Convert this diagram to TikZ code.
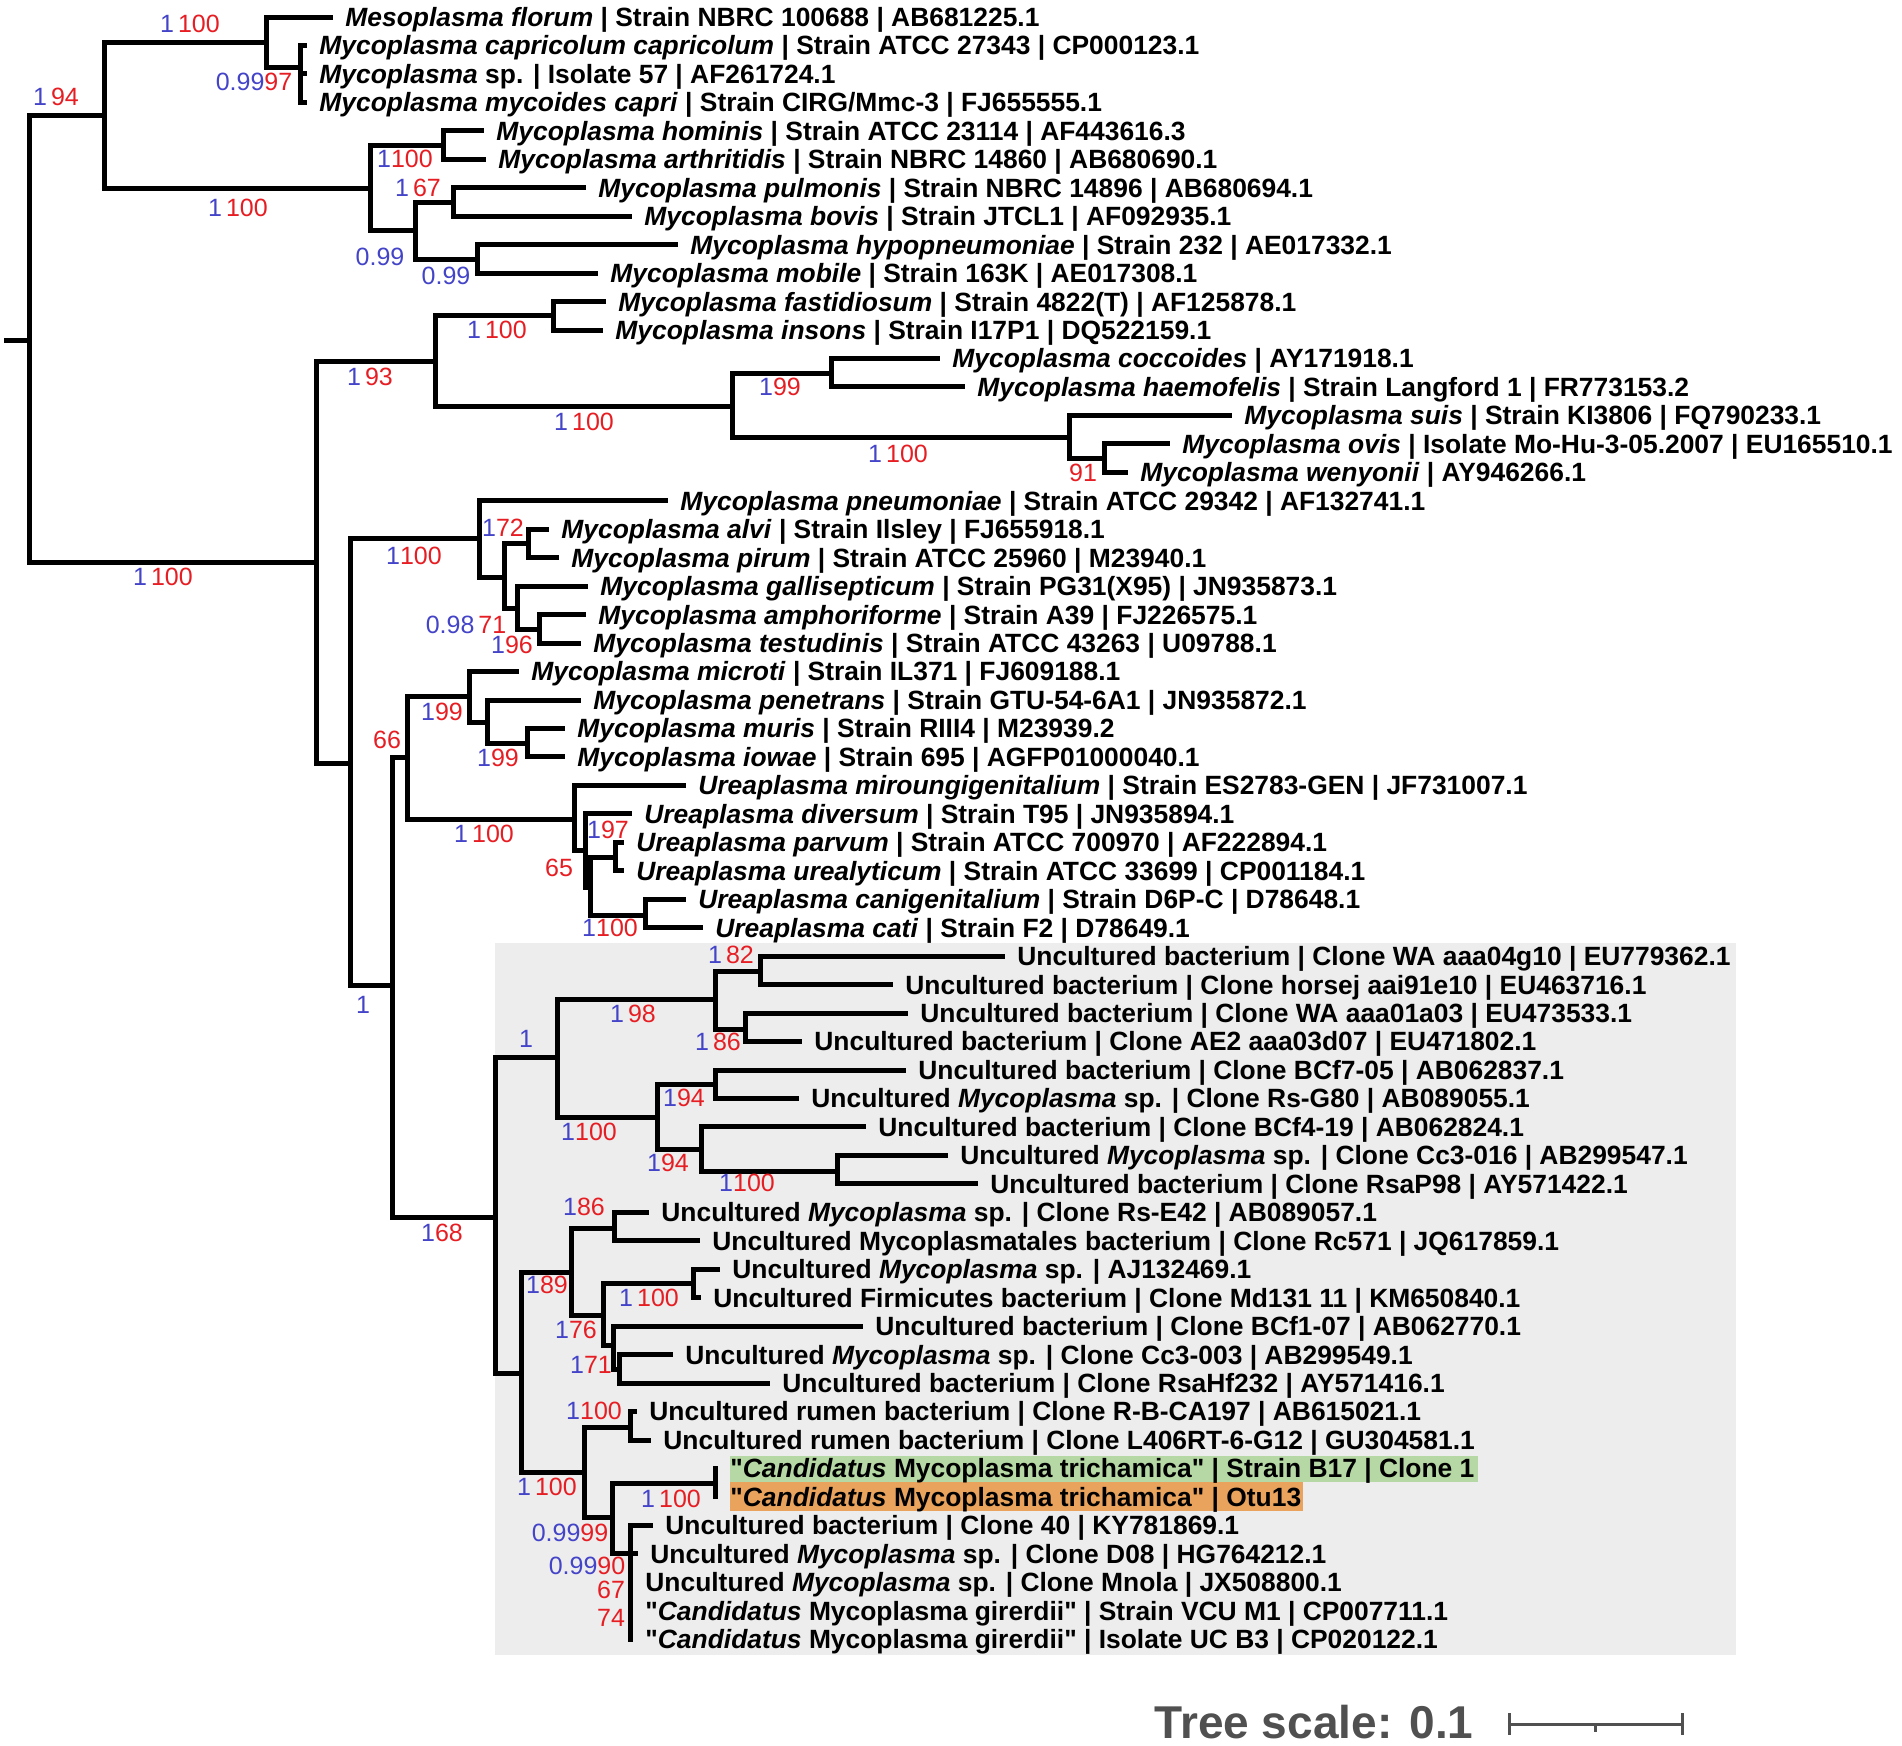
\documentclass[tikz,border=0pt]{standalone}
\usepackage{fontspec}
\setmainfont[Ligatures=TeXOff]{Liberation Sans}
\definecolor{sb}{RGB}{68,68,200}
\definecolor{sr}{RGB}{230,30,35}
\definecolor{boxgrey}{RGB}{237,237,237}
\definecolor{hlgreen}{RGB}{181,216,164}
\definecolor{hlorange}{RGB}{233,163,92}
\definecolor{scalegrey}{RGB}{80,80,80}
\newcommand{\SupBR}[2]{{\color{sb}#1}\hspace{2pt}{\color{sr}#2}}
\newcommand{\SupBRt}[2]{{\color{sb}#1}{\color{sr}#2}}
\newcommand{\SupB}[1]{{\color{sb}#1}}
\newcommand{\SupR}[1]{{\color{sr}#1}}
\begin{document}
\begin{tikzpicture}[x=0.5pt,y=-0.5pt,
  br/.style={line width=2.5pt,line cap=rect},
  leaf/.style={anchor=base west,inner sep=0pt,xshift=7.5pt,yshift=-4.7pt,font=\fontsize{13.2pt}{15pt}\selectfont\bfseries},
  sup/.style={inner sep=0pt,font=\fontsize{12.5pt}{14pt}\selectfont},
  scalebar/.style={line width=1.5pt,draw=scalegrey}]
\useasboundingbox (0,0) rectangle (1902,1746);
% background highlight
\fill[boxgrey] (495,943) rectangle (1736,1655);
\fill[hlgreen] (730,1456) rectangle (1478,1482);
\fill[hlorange] (730,1482) rectangle (1303,1511);
% leaf tips
\foreach \i/\x in {1/330,2/304,3/304,4/304,5/481,6/483,7/583,8/629,9/675,10/595,
  11/603,12/600,13/937,14/962,15/1229,16/1167,17/1125,18/665,19/546,20/556,
  21/585,22/583,23/578,24/516,25/578,26/562,27/562,28/683,29/629,30/621,
  31/621,32/683,33/700,34/1002,35/890,36/905,37/799,38/903,39/796,40/863,
  41/945,42/975,43/646,44/697,45/717,46/698,47/860,48/670,49/767,50/634,
  51/648,52/715,53/715,54/650,55/635,56/630,57/630,58/630}
  {\coordinate (l\i) at (\x,{17+(\i-1)*28.46});}
% internal nodes
\coordinate (r0) at (6,340);
\coordinate (R) at (29,340);
\coordinate (A) at (104,115);
\coordinate (A1) at (266,42);
\coordinate (A1b) at (300,67);
\coordinate (A2) at (370,188);
\coordinate (A2a) at (443,145);
\coordinate (A2b) at (415,230);
\coordinate (A2b1) at (453,202);
\coordinate (A2b2) at (477,259);
\coordinate (B) at (316,562);
\coordinate (B1) at (435,361);
\coordinate (B1a) at (553,315);
\coordinate (B1b) at (732,406);
\coordinate (B1b1) at (831,373);
\coordinate (B1b2) at (1069,437);
\coordinate (B1b2b) at (1104,458);
\coordinate (C) at (350,763);
\coordinate (C1) at (479,538);
\coordinate (C1b) at (504,577);
\coordinate (C1b1) at (528,543);
\coordinate (C1b2) at (517,608);
\coordinate (C1b2b) at (539,629);
\coordinate (D) at (392,985);
\coordinate (E) at (407,757);
\coordinate (E1) at (469,696);
\coordinate (E1b) at (487,722);
\coordinate (E1bb) at (527,743);
\coordinate (U0) at (574,819);
\coordinate (U1) at (585,850);
\coordinate (U2) at (590,887);
\coordinate (U3) at (615,857);
\coordinate (U4) at (645,915);
\coordinate (F) at (495,1217);
\coordinate (F1) at (557,1057);
\coordinate (F1a) at (715,999);
\coordinate (F1a1) at (760,971);
\coordinate (F1a2) at (745,1029);
\coordinate (F1b) at (657,1117);
\coordinate (F1b1) at (715,1084);
\coordinate (F1b2) at (701,1149);
\coordinate (F1b2b) at (837,1171);
\coordinate (F2) at (521,1373);
\coordinate (F2a) at (571,1272);
\coordinate (F2a1) at (614,1228);
\coordinate (F2a2) at (603,1315);
\coordinate (F2a2a) at (693,1283);
\coordinate (G) at (613,1345);
\coordinate (H) at (619,1369);
\coordinate (F2b) at (584,1472);
\coordinate (F2b1) at (630,1427);
\coordinate (F2b2) at (612,1517);
\coordinate (F2b2a) at (715,1483);
\coordinate (F2b2b) at (630,1553);
% branches
\draw[br] (r0) -- (R);
\foreach \p/\c in {R/A,R/B,A/A1,A/A2,A1/l1,A1/A1b,A1b/l2,A1b/l3,A1b/l4,
  A2/A2a,A2/A2b,A2a/l5,A2a/l6,A2b/A2b1,A2b/A2b2,A2b1/l7,A2b1/l8,A2b2/l9,A2b2/l10,
  B/B1,B/C,B1/B1a,B1/B1b,B1a/l11,B1a/l12,B1b/B1b1,B1b/B1b2,B1b1/l13,B1b1/l14,
  B1b2/l15,B1b2/B1b2b,B1b2b/l16,B1b2b/l17,
  C/C1,C/D,C1/l18,C1/C1b,C1b/C1b1,C1b/C1b2,C1b1/l19,C1b1/l20,C1b2/l21,C1b2/C1b2b,
  C1b2b/l22,C1b2b/l23,
  D/E,D/F,E/E1,E/U0,E1/l24,E1/E1b,E1b/l25,E1b/E1bb,E1bb/l26,E1bb/l27,
  U0/l28,U0/U1,U1/l29,U1/U2,U2/U3,U2/U4,U3/l30,U3/l31,U4/l32,U4/l33,
  F/F1,F/F2,F1/F1a,F1/F1b,F1a/F1a1,F1a/F1a2,F1a1/l34,F1a1/l35,F1a2/l36,F1a2/l37,
  F1b/F1b1,F1b/F1b2,F1b1/l38,F1b1/l39,F1b2/l40,F1b2/F1b2b,F1b2b/l41,F1b2b/l42,
  F2/F2a,F2/F2b,F2a/F2a1,F2a/F2a2,F2a1/l43,F2a1/l44,F2a2/F2a2a,F2a2/G,
  F2a2a/l45,F2a2a/l46,G/l47,G/H,H/l48,H/l49,
  F2b/F2b1,F2b/F2b2,F2b1/l50,F2b1/l51,F2b2/F2b2a,F2b2/F2b2b,F2b2a/l52,F2b2a/l53,
  F2b2b/l54,F2b2b/l55,F2b2b/l56,F2b2b/l57,F2b2b/l58}
  {\draw[br] (\p) |- (\c);}
% leaf labels
\node[leaf] (t1) at (l1) {\textit{Mesoplasma florum} | Strain NBRC 100688 | AB681225.1};
\node[leaf] (t2) at (l2) {\textit{Mycoplasma capricolum capricolum} | Strain ATCC 27343 | CP000123.1};
\node[leaf] (t3) at (l3) {\textit{Mycoplasma} sp. | Isolate 57 | AF261724.1};
\node[leaf] (t4) at (l4) {\textit{Mycoplasma mycoides capri} | Strain CIRG/Mmc-3 | FJ655555.1};
\node[leaf] (t5) at (l5) {\textit{Mycoplasma hominis} | Strain ATCC 23114 | AF443616.3};
\node[leaf] (t6) at (l6) {\textit{Mycoplasma arthritidis} | Strain NBRC 14860 | AB680690.1};
\node[leaf] (t7) at (l7) {\textit{Mycoplasma pulmonis} | Strain NBRC 14896 | AB680694.1};
\node[leaf] (t8) at (l8) {\textit{Mycoplasma bovis} | Strain JTCL1 | AF092935.1};
\node[leaf] (t9) at (l9) {\textit{Mycoplasma hypopneumoniae} | Strain 232 | AE017332.1};
\node[leaf] (t10) at (l10) {\textit{Mycoplasma mobile} | Strain 163K | AE017308.1};
\node[leaf] (t11) at (l11) {\textit{Mycoplasma fastidiosum} | Strain 4822(T) | AF125878.1};
\node[leaf] (t12) at (l12) {\textit{Mycoplasma insons} | Strain I17P1 | DQ522159.1};
\node[leaf] (t13) at (l13) {\textit{Mycoplasma coccoides} | AY171918.1};
\node[leaf] (t14) at (l14) {\textit{Mycoplasma haemofelis} | Strain Langford 1 | FR773153.2};
\node[leaf] (t15) at (l15) {\textit{Mycoplasma suis} | Strain KI3806 | FQ790233.1};
\node[leaf] (t16) at (l16) {\textit{Mycoplasma ovis} | Isolate Mo-Hu-3-05.2007 | EU165510.1};
\node[leaf] (t17) at (l17) {\textit{Mycoplasma wenyonii} | AY946266.1};
\node[leaf] (t18) at (l18) {\textit{Mycoplasma pneumoniae} | Strain ATCC 29342 | AF132741.1};
\node[leaf] (t19) at (l19) {\textit{Mycoplasma alvi} | Strain Ilsley | FJ655918.1};
\node[leaf] (t20) at (l20) {\textit{Mycoplasma pirum} | Strain ATCC 25960 | M23940.1};
\node[leaf] (t21) at (l21) {\textit{Mycoplasma gallisepticum} | Strain PG31(X95) | JN935873.1};
\node[leaf] (t22) at (l22) {\textit{Mycoplasma amphoriforme} | Strain A39 | FJ226575.1};
\node[leaf] (t23) at (l23) {\textit{Mycoplasma testudinis} | Strain ATCC 43263 | U09788.1};
\node[leaf] (t24) at (l24) {\textit{Mycoplasma microti} | Strain IL371 | FJ609188.1};
\node[leaf] (t25) at (l25) {\textit{Mycoplasma penetrans} | Strain GTU-54-6A1 | JN935872.1};
\node[leaf] (t26) at (l26) {\textit{Mycoplasma muris} | Strain RIII4 | M23939.2};
\node[leaf] (t27) at (l27) {\textit{Mycoplasma iowae} | Strain 695 | AGFP01000040.1};
\node[leaf] (t28) at (l28) {\textit{Ureaplasma miroungigenitalium} | Strain ES2783-GEN | JF731007.1};
\node[leaf] (t29) at (l29) {\textit{Ureaplasma diversum} | Strain T95 | JN935894.1};
\node[leaf] (t30) at (l30) {\textit{Ureaplasma parvum} | Strain ATCC 700970 | AF222894.1};
\node[leaf] (t31) at (l31) {\textit{Ureaplasma urealyticum} | Strain ATCC 33699 | CP001184.1};
\node[leaf] (t32) at (l32) {\textit{Ureaplasma canigenitalium} | Strain D6P-C | D78648.1};
\node[leaf] (t33) at (l33) {\textit{Ureaplasma cati} | Strain F2 | D78649.1};
\node[leaf] (t34) at (l34) {Uncultured bacterium | Clone WA aaa04g10 | EU779362.1};
\node[leaf] (t35) at (l35) {Uncultured bacterium | Clone horsej aai91e10 | EU463716.1};
\node[leaf] (t36) at (l36) {Uncultured bacterium | Clone WA aaa01a03 | EU473533.1};
\node[leaf] (t37) at (l37) {Uncultured bacterium | Clone AE2 aaa03d07 | EU471802.1};
\node[leaf] (t38) at (l38) {Uncultured bacterium | Clone BCf7-05 | AB062837.1};
\node[leaf] (t39) at (l39) {Uncultured \textit{Mycoplasma} sp. | Clone Rs-G80 | AB089055.1};
\node[leaf] (t40) at (l40) {Uncultured bacterium | Clone BCf4-19 | AB062824.1};
\node[leaf] (t41) at (l41) {Uncultured \textit{Mycoplasma} sp. | Clone Cc3-016 | AB299547.1};
\node[leaf] (t42) at (l42) {Uncultured bacterium | Clone RsaP98 | AY571422.1};
\node[leaf] (t43) at (l43) {Uncultured \textit{Mycoplasma} sp. | Clone Rs-E42 | AB089057.1};
\node[leaf] (t44) at (l44) {Uncultured Mycoplasmatales bacterium | Clone Rc571 | JQ617859.1};
\node[leaf] (t45) at (l45) {Uncultured \textit{Mycoplasma} sp. | AJ132469.1};
\node[leaf] (t46) at (l46) {Uncultured Firmicutes bacterium | Clone Md131 11 | KM650840.1};
\node[leaf] (t47) at (l47) {Uncultured bacterium | Clone BCf1-07 | AB062770.1};
\node[leaf] (t48) at (l48) {Uncultured \textit{Mycoplasma} sp. | Clone Cc3-003 | AB299549.1};
\node[leaf] (t49) at (l49) {Uncultured bacterium | Clone RsaHf232 | AY571416.1};
\node[leaf] (t50) at (l50) {Uncultured rumen bacterium | Clone R-B-CA197 | AB615021.1};
\node[leaf] (t51) at (l51) {Uncultured rumen bacterium | Clone L406RT-6-G12 | GU304581.1};
\node[leaf] (t52) at (l52) {"\textit{Candidatus} Mycoplasma trichamica" | Strain B17 | Clone 1};
\node[leaf] (t53) at (l53) {"\textit{Candidatus} Mycoplasma trichamica" | Otu13};
\node[leaf] (t54) at (l54) {Uncultured bacterium | Clone 40 | KY781869.1};
\node[leaf] (t55) at (l55) {Uncultured \textit{Mycoplasma} sp. | Clone D08 | HG764212.1};
\node[leaf] (t56) at (l56) {Uncultured \textit{Mycoplasma} sp. | Clone Mnola | JX508800.1};
\node[leaf] (t57) at (l57) {"\textit{Candidatus} Mycoplasma girerdii" | Strain VCU M1 | CP007711.1};
\node[leaf] (t58) at (l58) {"\textit{Candidatus} Mycoplasma girerdii" | Isolate UC B3 | CP020122.1};
% support values
\node[sup] (s1) at (190,24) {\SupBR{1}{100}};
\node[sup] (s2) at (254,82) {\SupBRt{0.99}{97}};
\node[sup] (s3) at (56,97) {\SupBR{1}{94}};
\node[sup] (s4) at (238,208) {\SupBR{1}{100}};
\node[sup] (s5) at (405,159) {\SupBRt{1}{100}};
\node[sup] (s6) at (418,188) {\SupBR{1}{67}};
\node[sup] (s7) at (380,257) {\SupB{0.99}};
\node[sup] (s8) at (446,276) {\SupB{0.99}};
\node[sup] (s9) at (497,330) {\SupBR{1}{100}};
\node[sup] (s10) at (370,377) {\SupBR{1}{93}};
\node[sup] (s11) at (584,422) {\SupBR{1}{100}};
\node[sup] (s12) at (780,387) {\SupBRt{1}{99}};
\node[sup] (s13) at (898,454) {\SupBR{1}{100}};
\node[sup] (s14) at (1083,473) {\SupR{91}};
\node[sup] (s15) at (163,577) {\SupBR{1}{100}};
\node[sup] (s16) at (414,556) {\SupBRt{1}{100}};
\node[sup] (s17) at (503,528) {\SupBRt{1}{72}};
\node[sup] (s18) at (466,625) {\SupBR{0.98}{71}};
\node[sup] (s19) at (512,645) {\SupBRt{1}{96}};
\node[sup] (s20) at (387,740) {\SupR{66}};
\node[sup] (s21) at (442,712) {\SupBRt{1}{99}};
\node[sup] (s22) at (498,758) {\SupBRt{1}{99}};
\node[sup] (s23) at (484,834) {\SupBR{1}{100}};
\node[sup] (s24) at (608,830) {\SupBRt{1}{97}};
\node[sup] (s25) at (559,868) {\SupR{65}};
\node[sup] (s26) at (610,928) {\SupBRt{1}{100}};
\node[sup] (s27) at (363,1005) {\SupB{1}};
\node[sup] (s28) at (731,955) {\SupBR{1}{82}};
\node[sup] (s29) at (633,1014) {\SupBR{1}{98}};
\node[sup] (s30) at (718,1042) {\SupBR{1}{86}};
\node[sup] (s31) at (526,1039) {\SupB{1}};
\node[sup] (s32) at (684,1098) {\SupBRt{1}{94}};
\node[sup] (s33) at (589,1132) {\SupBRt{1}{100}};
\node[sup] (s34) at (668,1163) {\SupBRt{1}{94}};
\node[sup] (s35) at (747,1183) {\SupBRt{1}{100}};
\node[sup] (s36) at (584,1207) {\SupBRt{1}{86}};
\node[sup] (s37) at (442,1233) {\SupBRt{1}{68}};
\node[sup] (s38) at (547,1285) {\SupBRt{1}{89}};
\node[sup] (s39) at (649,1298) {\SupBR{1}{100}};
\node[sup] (s40) at (576,1330) {\SupBRt{1}{76}};
\node[sup] (s41) at (591,1365) {\SupBRt{1}{71}};
\node[sup] (s42) at (594,1411) {\SupBRt{1}{100}};
\node[sup] (s43) at (547,1487) {\SupBR{1}{100}};
\node[sup] (s44) at (671,1499) {\SupBR{1}{100}};
\node[sup] (s45) at (570,1533) {\SupBRt{0.99}{99}};
\node[sup] (s46) at (587,1566) {\SupBRt{0.99}{90}};
\node[sup] (s47) at (611,1590) {\SupR{67}};
\node[sup] (s48) at (611,1618) {\SupR{74}};
% tree scale
\node[inner sep=0pt,text=scalegrey,font=\fontsize{23pt}{26pt}\selectfont\bfseries] (ts) at (1314,1722) {Tree scale: 0.1};
\coordinate (sbl) at (1509,1724);
\coordinate (sbr) at (1682,1724);
\coordinate (sbm) at (1595,1724);
\draw[scalebar] (sbl) -- (sbr);
\draw[scalebar] ([yshift=5.5pt]sbl) -- ([yshift=-5.5pt]sbl);
\draw[scalebar] ([yshift=5.5pt]sbr) -- ([yshift=-5.5pt]sbr);
\draw[scalebar] (sbm) -- ([yshift=-4pt]sbm);
\end{tikzpicture}
\end{document}
